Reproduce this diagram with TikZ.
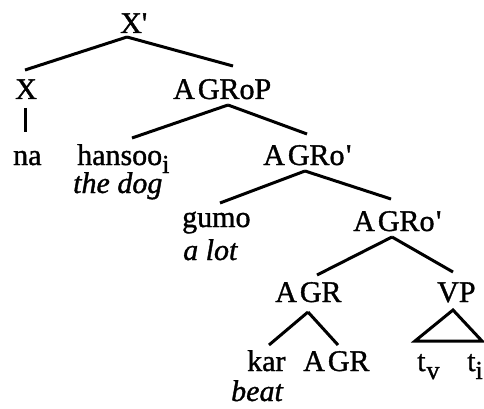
\documentclass[tikz,border=0pt]{standalone}
\usepackage{fontspec}
\newfontfamily\rs{Liberation Serif}[FakeBold=1.2]
\usetikzlibrary{calc}
\begin{document}
\begin{tikzpicture}[x=1pt,y=-1pt,
  lab/.style={inner sep=0pt, anchor=base west, font=\rs\fontsize{30}{36}\selectfont},
  gl/.style={lab, font=\rs\itshape\fontsize{30}{36}\selectfont},
  br/.style={line width=3pt}]
\newcommand{\sbx}[1]{\raisebox{-8pt}{\fontsize{26}{30}\selectfont #1}}
\useasboundingbox (0,0) rectangle (484,409);
% nodes
\node[lab] (Xp) at (120,33) {X'};
\node[lab] (X) at (15,99) {X};
\node[lab] (na) at (13,165) {na};
\node[lab] (AGRoP) at (173,99) {A\kern3pt GRoP};
\node[lab] (hansoo) at (77,165) {hansoo\sbx{i}};
\node[gl] (thedog) at (73,193) {the dog};
\node[lab] (AGRo1) at (263,165) {A\kern3pt GRo\kern1.5pt'};
\node[lab] (gumo) at (182,227) {gumo};
\node[gl] (alot) at (183,260) {a lot};
\node[lab] (AGRo2) at (353,231) {A\kern3pt GRo\kern1.5pt'};
\node[lab] (AGR) at (275,302) {A\kern3pt GR};
\node[lab] (VP) at (437,302) {VP};
\node[lab] (kar) at (247,371) {kar};
\node[lab] (AGRl) at (303,371) {A\kern3pt GR};
\node[lab] (tv) at (417,371) {t\kern1pt\sbx{v}};
\node[lab] (ti) at (467,371) {t\sbx{i}};
\node[gl] (beat) at (231,401) {beat};
% branches
\draw[br] ($(Xp.base west)+(7,4)$) -- ($(X.base west)+(10,-29)$);
\draw[br] ($(Xp.base west)+(7,4)$) -- ($(AGRoP.base west)+(60,-33)$);
\draw[br] ($(X.base west)+(10,9)$) -- ($(na.base west)+(12,-33)$);
\draw[br] ($(AGRoP.base west)+(55,6)$) -- ($(hansoo.base west)+(55,-27)$);
\draw[br] ($(AGRoP.base west)+(55,6)$) -- ($(AGRo1.base west)+(44,-31)$);
\draw[br] ($(AGRo1.base west)+(42,6)$) -- ($(gumo.base west)+(38,-24)$);
\draw[br] ($(AGRo1.base west)+(42,6)$) -- ($(AGRo2.base west)+(38,-32)$);
\draw[br] ($(AGRo2.base west)+(39,6)$) -- ($(AGR.base west)+(42,-27)$);
\draw[br] ($(AGRo2.base west)+(39,6)$) -- ($(VP.base west)+(16,-30)$);
\draw[br] ($(AGR.base west)+(33,10)$) -- ($(kar.base west)+(22,-26)$);
\draw[br] ($(AGR.base west)+(33,10)$) -- ($(AGRl.base west)+(35,-26)$);
\draw[br] ($(VP.base west)+(16,8)$) -- ($(ti.base west)+(15,-30)$) -- ($(tv.base west)+(-2,-30)$) -- cycle;
\end{tikzpicture}
\end{document}
